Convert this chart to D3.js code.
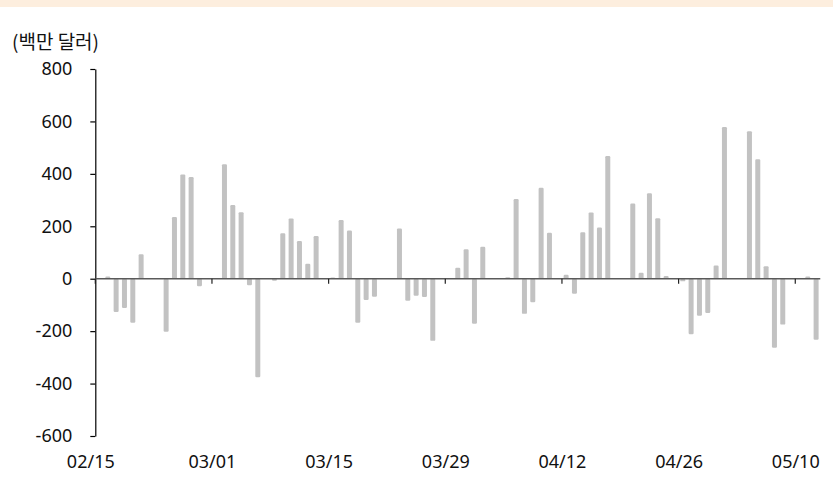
<!DOCTYPE html>
<html>
<head>
<meta charset="utf-8">
<script src="https://cdn.jsdelivr.net/npm/d3@7.9.0/dist/d3.min.js"></script>
<style>
  body { margin: 0; background: #fff; }
  svg { display: block; }
  text { font-family: "Noto Sans", "Noto Sans CJK KR", sans-serif; fill: #111; }
</style>
</head>
<body>
<svg id="chart" width="833" height="477"></svg>
<script>
const YEAR = 2026;
const UNIT_LABEL = "(백만 달러)";

const dates = [
  "02/16", "02/17", "02/18", "02/19", "02/20",
  "02/23", "02/24", "02/25", "02/26", "02/27",
  "03/02", "03/03", "03/04", "03/05", "03/06",
  "03/08", "03/09", "03/10", "03/11", "03/12", "03/13",
  "03/15", "03/16", "03/17", "03/18", "03/19", "03/20",
  "03/23", "03/24", "03/25", "03/26", "03/27",
  "03/30", "03/31", "04/01", "04/02",
  "04/05", "04/06", "04/07", "04/08", "04/09", "04/10",
  "04/12", "04/13", "04/14", "04/15", "04/16", "04/17",
  "04/20", "04/21", "04/22", "04/23", "04/24",
  "04/26", "04/27", "04/28", "04/29", "04/30", "05/01",
  "05/04", "05/05", "05/06", "05/07", "05/08",
  "05/11", "05/12",
];

const flows = [
  8, -127, -112, -168, 93,
  -202, 235, 398, 388, -29,
  437, 281, 254, -25, -376,
  -8, 173, 230, 144, 57, 163,
  5, 224, 184, -168, -81, -69,
  192, -84, -65, -70, -237,
  42, 112, -172, 122,
  6, 304, -134, -90, 347, 175,
  15, -57, 177, 253, 195, 468,
  287, 23, 326, 231, 10,
  -10, -212, -141, -131, 50, 579,
  563, 456, 48, -263, -175,
  8, -233,
];

const xTickLabels = ["02/15", "03/01", "03/15", "03/29", "04/12", "04/26", "05/10"];
const yTicks = [-600, -400, -200, 0, 200, 400, 600, 800];

const parseDay = (s) => d3.utcParse("%Y/%m/%d")(`${YEAR}/${s}`);

const data = dates.map((d, i) => ({ date: parseDay(d), value: flows[i] }));

const svg = d3.select("#chart");

// thin peach band across the top
svg.append("rect")
  .attr("x", 0).attr("y", 0)
  .attr("width", 833).attr("height", 7)
  .attr("fill", "#fdeede");

const left = 95.3;
const dayWidth = 8.333;
const start = parseDay("02/15");
const end = d3.utcDay.offset(parseDay("05/12"), 1);

const x = d3.scaleUtc()
  .domain([start, end])
  .range([left, left + d3.utcDay.count(start, end) * dayWidth]);

const y = d3.scaleLinear().domain([-600, 800]).range([436, 69]);

// y axis (plain hyphen for negatives, as in the source)
const yAxis = svg.append("g")
  .attr("transform", `translate(${left},0)`)
  .call(
    d3.axisLeft(y)
      .tickValues(yTicks)
      .tickSize(5)
      .tickSizeOuter(0)
      .tickPadding(18)
      .tickFormat((d) => String(d)),
  );
yAxis.select(".domain").attr("stroke", "#000").attr("stroke-width", 1.2);
yAxis.selectAll(".tick line").attr("stroke", "#000").attr("stroke-width", 1.2);
yAxis.selectAll(".tick text")
  .attr("font-size", 18)
  .style("font-family", '"Noto Sans", sans-serif')
  .attr("fill", "#111");

// bars
const barWidth = 5;
svg.append("g")
  .selectAll("rect")
  .data(data)
  .join("rect")
  .attr("x", (d) => x(d.date) + dayWidth / 2 - barWidth / 2)
  .attr("y", (d) => y(Math.max(0, d.value)))
  .attr("width", barWidth)
  .attr("height", (d) => Math.abs(y(d.value) - y(0)))
  .attr("rx", 1.2)
  .attr("fill", "#c2c2c2");

// zero line with date ticks
const xTicks = xTickLabels.map(parseDay);
svg.append("line")
  .attr("x1", left)
  .attr("x2", x(end))
  .attr("y1", y(0))
  .attr("y2", y(0))
  .attr("stroke", "#5a5a5a")
  .attr("stroke-width", 1.4);

svg.append("g")
  .selectAll("line")
  .data(xTicks)
  .join("line")
  .attr("x1", (d) => x(d))
  .attr("x2", (d) => x(d))
  .attr("y1", y(0))
  .attr("y2", y(0) + 5)
  .attr("stroke", "#222")
  .attr("stroke-width", 1.2);

// date labels along the bottom
const xAxis = svg.append("g")
  .attr("transform", "translate(0,455)")
  .call(
    d3.axisBottom(x)
      .tickValues(xTicks)
      .tickSize(0)
      .tickPadding(0)
      .tickFormat(d3.utcFormat("%m/%d")),
  );
xAxis.select(".domain").remove();
xAxis.selectAll(".tick text")
  .attr("font-size", 18)
  .style("font-family", '"Noto Sans", sans-serif')
  .attr("fill", "#111");
// first label sits a little left of the axis in the source
xAxis.select(".tick text").attr("dx", -5);

svg.append("text")
  .attr("x", 12)
  .attr("y", 49)
  .attr("font-size", 19)
  .style("font-family", '"Noto Sans CJK KR", sans-serif')
  .text(UNIT_LABEL);
</script>
</body>
</html>
